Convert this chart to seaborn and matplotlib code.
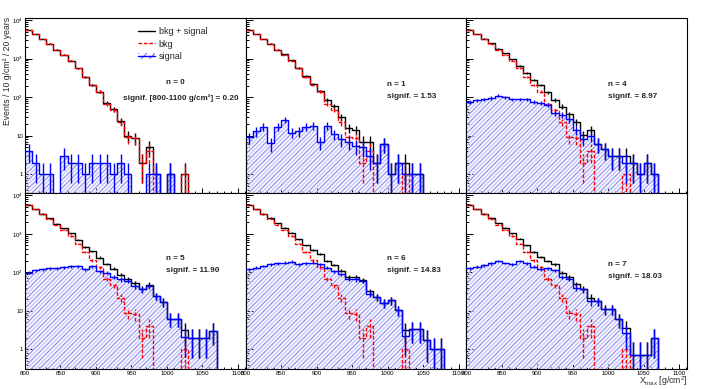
import matplotlib as mpl

mpl.use('Agg')
import numpy as np
import pandas as pd
import matplotlib.pyplot as plt
import seaborn as sns
from matplotlib.lines import Line2D
from matplotlib.patches import Patch
from matplotlib.ticker import FixedLocator, FuncFormatter, LogLocator, MultipleLocator, NullFormatter

sns.set_theme(style='ticks')
plt.rcParams['font.family'] = ['Liberation Sans', 'DejaVu Sans']
plt.rcParams['mathtext.default'] = 'regular'

#### data ####
edges = np.arange(800, 1111, 10)      # 31 bins of 10 g/cm2
centers = edges[:-1] + 5

bkg = [5600, 4300, 3200, 2450, 1700, 1260, 880, 560, 330, 205, 137, 68, 47, 22, 9, 8.5,
       2, 4, 0, 0, 0, 0, 1, 0, 0, 0, 0, 0, 0, 0, 0]

sig_n0 = [4, 2, 1, 1, 0, 3, 2, 2, 1, 2, 2, 2, 1, 2, 1, 0, 0, 1, 1, 0, 1, 0,
          0, 0, 0, 0, 0, 0, 0, 0, 0]
sig_n1 = [9, 13, 17, 6.4, 17, 26, 12, 13, 17, 18, 6.8, 18, 11, 8, 7, 5.5, 5, 3, 2, 6, 1, 2,
          1, 1, 1, 0, 0, 0, 0, 0, 0]
sig_n4 = [74, 82, 88, 96, 110, 100, 88, 88, 88, 74, 70, 64, 38, 35, 27, 14, 8.3, 10, 6, 4.5,
          3, 3, 2, 2, 1, 2, 1, 0, 0, 0, 0]
sig_n5 = [98, 113, 120, 130, 130, 137, 145, 145, 120, 145, 106, 98, 77, 66, 60, 44, 36, 44,
          24, 17, 6.3, 6.3, 2.1, 2, 2, 2, 3, 0, 0, 0, 0]
sig_n6 = [120, 133, 146, 162, 172, 180, 190, 162, 172, 180, 162, 133, 108, 89, 68, 66, 60,
          28, 23, 16, 19, 10.5, 2.2, 3.3, 3.3, 1.8, 1, 1, 0, 0, 0]
sig_n7 = [127, 140, 152, 171, 196, 178, 162, 196, 171, 140, 120, 127, 115, 77, 68, 40, 36,
          18, 18, 11, 11, 6, 2.7, 0.7, 0.7, 0.7, 2, 0, 0, 0, 0]

signals = [sig_n0, sig_n1, sig_n4, sig_n5, sig_n6, sig_n7]
n_values = [0, 1, 4, 5, 6, 7]
signif = ['0.20', '1.53', '8.97', '11.90', '14.83', '18.03']

# text anchor (pixels) for each panel: x, y of "n =" line, y of "signif." line, alignment
text_pos = [(175, 83, 98, 'center'), (387, 85, 96, 'left'), (608, 85, 96, 'left'),
            (166, 259, 271, 'left'), (387, 259, 271, 'left'), (608, 264, 276, 'left')]

W, H = 709, 389
HATCH_LIGHT = '#cdcdf9'
HATCH_DARK = '#7878e8'
DASH = (0, (2.6, 1.3))
LW = 1.0


def step_hist(ax, vals, **kw):
    df = pd.DataFrame({'xmax': centers, 'n': vals})
    sns.histplot(data=df, x='xmax', weights='n', binwidth=10, binrange=(800, 1110),
                 element='step', ax=ax, **kw)


def hatch_area(ax, vals, color, pattern, hlw):
    plt.rcParams['hatch.linewidth'] = hlw
    step_hist(ax, vals, fill=True, color='blue')
    area = ax.collections[-1]
    area.set_alpha(1)
    area.set_facecolor('none')
    area.set_edgecolor(color)
    area.set_linewidth(0)
    area.set_hatch(pattern)
    area.set_zorder(1)


def errbars(ax, vals, color, ls='-'):
    vals = np.asarray(vals, dtype=float)
    m = vals > 0
    v = vals[m]
    err = np.sqrt(v)
    low = np.clip(v - err, 0.01, None)
    cont = ax.errorbar(centers[m], v, yerr=[v - low, err], fmt='none',
                       ecolor=color, elinewidth=LW, capsize=0, zorder=5)
    for c in cont[2]:
        c.set_linestyle(ls)


fig, axes = plt.subplots(2, 3, figsize=(W / 100, H / 100), dpi=100, sharex=True, sharey=True)
fig.subplots_adjust(left=25 / W, right=687 / W, top=1 - 18 / H, bottom=1 - 368.5 / H,
                    wspace=0, hspace=0)

for i, (ax, sig) in enumerate(zip(axes.flat, signals)):
    total = list(np.array(bkg) + np.array(sig))

    # hatched signal area: light lines with every second one darker
    hatch_area(ax, sig, HATCH_LIGHT, '////////', 1.2)
    hatch_area(ax, sig, HATCH_DARK, '////', 0.45)

    step_hist(ax, total, fill=False, color='black', linewidth=LW, zorder=2)
    errbars(ax, total, 'black')
    step_hist(ax, bkg, fill=False, color='red', linewidth=LW, linestyle=DASH, zorder=3)
    errbars(ax, bkg, 'red', ls=DASH)
    step_hist(ax, sig, fill=False, color='blue', linewidth=LW, zorder=4)
    errbars(ax, sig, 'blue')

    ax.set_yscale('log')
    ax.set_xlim(800, 1111)
    ax.set_ylim(0.32, 1.13e4)
    ax.set_xlabel('')
    ax.set_ylabel('')

    ax.xaxis.set_major_locator(FixedLocator([800, 850, 900, 950, 1000, 1050, 1100]))
    ax.xaxis.set_minor_locator(MultipleLocator(10))
    ax.yaxis.set_major_locator(FixedLocator([1, 10, 100, 1000, 10000]))
    ax.yaxis.set_minor_locator(LogLocator(base=10, subs=np.arange(2, 10), numticks=20))
    ax.yaxis.set_minor_formatter(NullFormatter())
    ax.yaxis.set_major_formatter(FuncFormatter(
        lambda v, p: {1: '1', 10: '10'}.get(int(round(v)), '$10^{%d}$' % round(np.log10(v)))))

    ax.tick_params(which='both', direction='in', top=False, right=False, width=0.7,
                   labelsize=4.4, pad=1.5, colors='black')
    ax.tick_params(axis='y', which='major', length=5)
    ax.tick_params(axis='y', which='minor', length=2.5)
    ax.tick_params(axis='x', which='major', length=3.6)
    ax.tick_params(axis='x', which='minor', length=1.8)
    for s in ax.spines.values():
        s.set_linewidth(0.8)
        s.set_color('black')

    x, y1, y2, ha = text_pos[i]
    fig.text(x / W, 1 - y1 / H, 'n = %d' % n_values[i], ha=ha, va='center',
             fontsize=5.9, fontweight='bold')
    if i == 0:
        lab = 'signif. [800-1100 g/cm²] = ' + signif[i]
        x = 181
    else:
        lab = 'signif. = ' + signif[i]
    fig.text(x / W, 1 - y2 / H, lab, ha=ha, va='center', fontsize=5.9, fontweight='bold')

# legend in the first panel
plt.rcParams['hatch.linewidth'] = 0.8
handles = [Line2D([], [], color='black', lw=LW),
           Line2D([], [], color='red', lw=LW, linestyle=DASH),
           (Patch(facecolor='none', edgecolor=HATCH_DARK, linewidth=0, hatch='////'),
            Line2D([], [], color='blue', lw=LW))]
axes[0, 0].legend(handles, ['bkg + signal', 'bkg', 'signal'],
                  loc='upper left', bbox_to_anchor=((138 - 25) / 220, 1 - (27 - 18) / 175),
                  frameon=False, fontsize=6.5, handlelength=1.8, handletextpad=0.45,
                  labelspacing=0.4, borderpad=0, borderaxespad=0)

fig.text(8 / W, 1 - 17 / H, 'Events / 10 g/cm² / 20 years', rotation=90,
         ha='center', va='top', fontsize=6.2)
fig.text(687 / W, 1 - 384 / H, 'X$_{max}$ [g/cm$^{2}$]', ha='right', va='baseline',
         fontsize=6.2)

plt.savefig('out.png', dpi=100)
